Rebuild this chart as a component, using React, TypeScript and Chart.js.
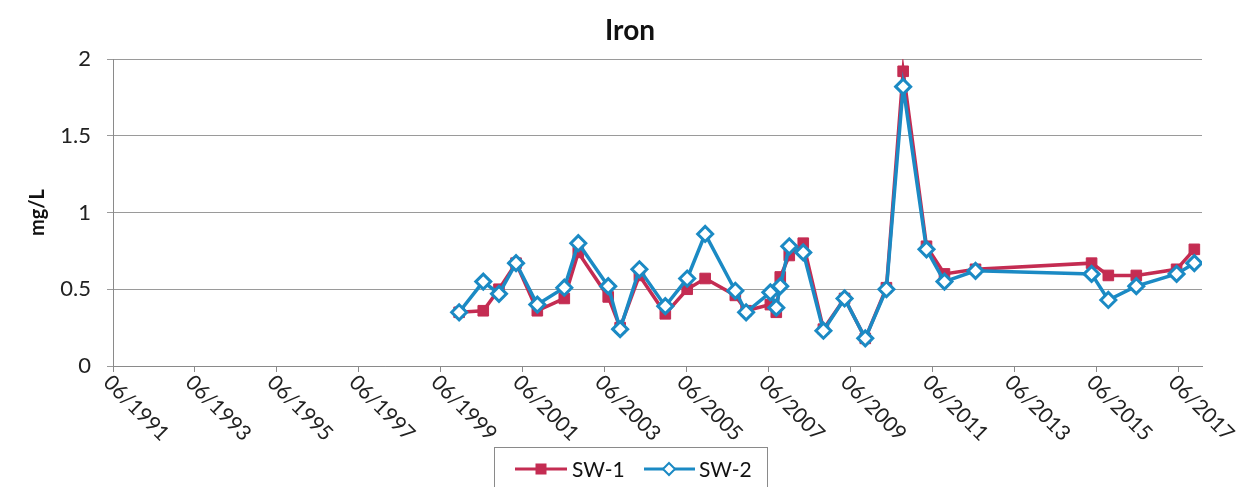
import React, { useEffect, useRef } from "react";
import { Chart, registerables } from "chart.js";

Chart.register(...registerables);

// ---- data ----
const chartTitle = "Iron";
const yAxisTitle = "mg/L";
const seriesNames = ["SW-1", "SW-2"];

const sampleDates = [
  "1999-11-13", "2000-06-15", "2000-11-03", "2001-04-03", "2001-10-10",
  "2002-06-07", "2002-10-10", "2003-07-03", "2003-10-18", "2004-04-07",
  "2004-11-25", "2005-06-07", "2005-11-15", "2006-08-10", "2006-11-15",
  "2007-06-18", "2007-08-10", "2007-09-15", "2007-12-04", "2008-04-07",
  "2008-10-04", "2009-04-10", "2009-10-12", "2010-04-18", "2010-09-15",
  "2011-04-10", "2011-09-18", "2012-06-21", "2015-04-21", "2015-09-18",
  "2016-05-24", "2017-05-18", "2017-10-24",
];

const sw1Values = [
  0.35, 0.36, 0.50, 0.67, 0.36, 0.44, 0.74, 0.45, 0.25, 0.59,
  0.34, 0.50, 0.57, 0.46, 0.36, 0.40, 0.35, 0.58, 0.72, 0.80,
  0.24, 0.44, 0.18, 0.51, 1.92, 0.78, 0.60, 0.63, 0.67, 0.59,
  0.59, 0.63, 0.76,
];

const sw2Values = [
  0.35, 0.55, 0.47, 0.67, 0.40, 0.51, 0.80, 0.52, 0.24, 0.63,
  0.39, 0.57, 0.86, 0.49, 0.35, 0.48, 0.38, 0.52, 0.78, 0.74,
  0.23, 0.44, 0.18, 0.50, 1.82, 0.76, 0.55, 0.62, 0.60, 0.43,
  0.52, 0.60, 0.67,
];

const xTickLabels = [
  "06/1991", "06/1993", "06/1995", "06/1997", "06/1999", "06/2001", "06/2003",
  "06/2005", "06/2007", "06/2009", "06/2011", "06/2013", "06/2015", "06/2017",
];
const xAxisEnd = "2018-01-01";
const yTickValues = [0, 0.5, 1, 1.5, 2];

// ---- helpers ----
const FONT = "Lato, 'Open Sans', sans-serif";
const RED = "#C42C52";
const BLUE = "#1B8AC4";

function monthsFromOrigin(dateStr: string): number {
  const [y, m, d] = dateStr.split("-").map(Number);
  return (y - 1991) * 12 + (m - 6) + (d - 1) / 30.4;
}
function labelToMonths(lbl: string): number {
  const [m, y] = lbl.split("/").map(Number);
  return (y - 1991) * 12 + (m - 6);
}

const decorPlugin = {
  id: "decor",
  afterDraw(chart: any) {
    const ctx = chart.ctx;
    const xs = chart.scales.x;
    ctx.save();
    // title
    ctx.fillStyle = "#111";
    ctx.font = `bold 28px ${FONT}`;
    ctx.textAlign = "center";
    ctx.textBaseline = "middle";
    ctx.fillText(chartTitle, 630, 31);

    // rotated x tick labels (clockwise 45°, starting at the tick)
    ctx.font = `21px ${FONT}`;
    ctx.fillStyle = "#222";
    xs.ticks.forEach((t: any, i: number) => {
      const px = xs.getPixelForValue(t.value);
      ctx.save();
      ctx.translate(px - 6, chart.chartArea.bottom + 13);
      ctx.rotate(Math.PI / 4);
      ctx.textAlign = "left";
      ctx.textBaseline = "middle";
      ctx.fillText(xTickLabels[i], 0, 0);
      ctx.restore();
    });

    // legend box
    const ds = chart.data.datasets;
    ctx.strokeStyle = "#8a8a8a";
    ctx.lineWidth = 1;
    ctx.strokeRect(494.5, 447.5, 273, 50);
    const ly = 469;
    const items = [
      { x0: 515, x1: 567, mx: 541, tx: 572 },
      { x0: 644, x1: 695, mx: 669, tx: 699 },
    ];
    items.forEach((it, i) => {
      const d = ds[i];
      ctx.strokeStyle = d.borderColor;
      ctx.lineWidth = 3;
      ctx.beginPath();
      ctx.moveTo(it.x0, ly);
      ctx.lineTo(it.x1, ly);
      ctx.stroke();
      if (d.pointStyle === "rect") {
        ctx.fillStyle = d.pointBackgroundColor;
        ctx.fillRect(it.mx - 5.5, ly - 5.5, 11, 11);
      } else {
        ctx.fillStyle = "#fff";
        ctx.strokeStyle = d.pointBorderColor;
        ctx.lineWidth = 2;
        ctx.beginPath();
        ctx.moveTo(it.mx, ly - 6);
        ctx.lineTo(it.mx + 6, ly);
        ctx.lineTo(it.mx, ly + 6);
        ctx.lineTo(it.mx - 6, ly);
        ctx.closePath();
        ctx.fill();
        ctx.stroke();
      }
      ctx.fillStyle = "#111";
      ctx.font = `21px ${FONT}`;
      ctx.textAlign = "left";
      ctx.textBaseline = "middle";
      ctx.fillText(d.label, it.tx, ly + 1);
    });
    ctx.restore();
  },
};

export default function App() {
  const canvasRef = useRef<HTMLCanvasElement | null>(null);

  useEffect(() => {
    document.body.style.margin = "0";
    document.body.style.background = "#fff";
    const canvas = canvasRef.current;
    if (!canvas) return;

    const xs = sampleDates.map(monthsFromOrigin);
    const chart = new Chart(canvas, {
      type: "line",
      data: {
        datasets: [
          {
            label: seriesNames[0],
            data: xs.map((x, i) => ({ x, y: sw1Values[i] })),
            borderColor: RED,
            backgroundColor: RED,
            borderWidth: 3.5,
            pointStyle: "rect",
            pointRadius: 7.5,
            pointBackgroundColor: RED,
            pointBorderColor: RED,
            pointBorderWidth: 1,
            tension: 0,
            order: 2,
          },
          {
            label: seriesNames[1],
            data: xs.map((x, i) => ({ x, y: sw2Values[i] })),
            borderColor: BLUE,
            backgroundColor: "#fff",
            borderWidth: 3.5,
            pointStyle: "rectRot",
            pointRadius: 7.5,
            pointBackgroundColor: "#fff",
            pointBorderColor: BLUE,
            pointBorderWidth: 3,
            tension: 0,
            order: 1,
          },
        ],
      },
      options: {
        responsive: false,
        animation: false,
        devicePixelRatio: 1,
        layout: { padding: { top: 59, right: 39, bottom: 0, left: 0 } },
        plugins: {
          legend: { display: false },
          title: { display: false },
          tooltip: { enabled: false },
        },
        scales: {
          x: {
            type: "linear",
            min: 0,
            max: monthsFromOrigin(xAxisEnd),
            afterBuildTicks: (s: any) => {
              s.ticks = xTickLabels.map((l) => ({ value: labelToMonths(l) }));
            },
            afterFit: (s: any) => {
              s.height = 121;
            },
            ticks: { display: false },
            grid: {
              drawOnChartArea: false,
              drawTicks: true,
              tickLength: 6,
              color: "#8a8a8a",
            },
            border: { display: true, color: "#8a8a8a", width: 1 },
          },
          y: {
            min: 0,
            max: 2,
            afterBuildTicks: (s: any) => {
              s.ticks = yTickValues.map((v) => ({ value: v }));
            },
            afterFit: (s: any) => {
              s.width = 113;
            },
            ticks: {
              font: { family: FONT, size: 22 },
              color: "#222",
              padding: 16,
              callback: (v: any) => String(v),
            },
            grid: { color: "#9a9a9a", tickLength: 6 },
            border: { display: true, color: "#8a8a8a", width: 1 },
            title: {
              display: true,
              text: yAxisTitle,
              color: "#111",
              font: { family: FONT, size: 20, weight: "bold" },
              padding: { top: 26, bottom: 0 },
            },
          },
        },
      },
      plugins: [decorPlugin],
    });
    return () => chart.destroy();
  }, []);

  return (
    <div style={{ width: 1241, height: 487 }}>
      <canvas ref={canvasRef} width={1241} height={487} style={{ display: "block" }} />
    </div>
  );
}
